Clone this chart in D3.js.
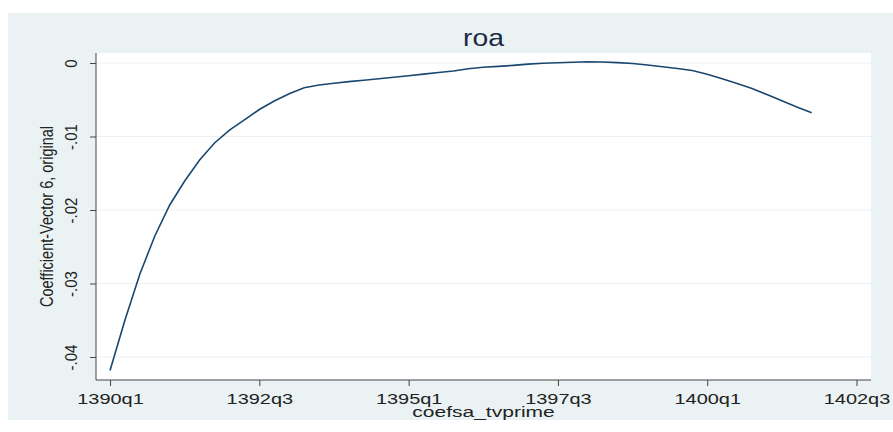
<!DOCTYPE html>
<html><head><meta charset="utf-8">
<script src="https://cdn.jsdelivr.net/npm/d3@7"></script>
<style>html,body{margin:0;padding:0;background:#fff;} svg{display:block;}</style>
</head><body><svg id="c" width="893" height="432"></svg>
<script>
const periods = ["1390q1","1390q2","1390q3","1390q4","1391q1","1391q2","1391q3","1391q4",
  "1392q1","1392q2","1392q3","1392q4","1393q1","1393q2","1393q3","1393q4",
  "1394q1","1394q2","1394q3","1394q4","1395q1","1395q2","1395q3","1395q4",
  "1396q1","1396q2","1396q3","1396q4","1397q1","1397q2","1397q3","1397q4",
  "1398q1","1398q2","1398q3","1398q4","1399q1","1399q2","1399q3","1399q4",
  "1400q1","1400q2","1400q3","1400q4","1401q1","1401q2","1401q3","1401q4"];
const values = [-0.04184,-0.03497,-0.02871,-0.02354,-0.01932,-0.01605,-0.01320,-0.01088,
  -0.00912,-0.00773,-0.00633,-0.00517,-0.00418,-0.00337,-0.00299,-0.00275,
  -0.00254,-0.00235,-0.00215,-0.00195,-0.00173,-0.00151,-0.00129,-0.00109,
  -0.00079,-0.00058,-0.00046,-0.00033,-0.00016,-0.00004,0.00003,0.00010,
  0.00016,0.00014,0.00005,-0.00007,-0.00027,-0.00052,-0.00075,-0.00102,
  -0.00152,-0.00214,-0.00279,-0.00348,-0.00429,-0.00514,-0.00599,-0.00676];
const xTickLabels = ["1390q1","1392q3","1395q1","1397q3","1400q1","1402q3"];
const yTicks = [0,-0.01,-0.02,-0.03,-0.04];
const yTickLabels = ["0","-.01","-.02","-.03","-.04"];
const titleText = "roa";
const xTitleText = "coefsa_tvprime";
const yTitleText = "Coefficient-Vector 6, original";

function qIndex(s){ return (+s.slice(0,4)-1390)*4 + (+s.slice(5)-1); }

const svg = d3.select("#c");
const L=96, R=871, T=53, B=380;
const FONT = "'Liberation Sans', Arial, sans-serif";

// outer background
svg.append("rect").attr("x",8).attr("y",13).attr("width",885).attr("height",407).attr("fill","#eaf2f3");
svg.append("rect").attr("x",L).attr("y",T).attr("width",R-L).attr("height",B-T).attr("fill","#fff");

const x = d3.scaleLinear().domain([-0.94, 50.97]).range([L,R]);
const y = d3.scaleLinear().domain([-0.04313, 0.00136]).range([B,T]);

// gridlines
svg.append("g").selectAll("line").data(yTicks).join("line")
  .attr("x1",L).attr("x2",R).attr("y1",d=>y(d)).attr("y2",d=>y(d))
  .attr("stroke","#eaf2f3").attr("stroke-width",1.2);

// line
const pts = periods.map((p,i)=>({q:qIndex(p), v:values[i]}));
svg.append("path").datum(pts)
  .attr("d", d3.line().x(d=>x(d.q)).y(d=>y(d.v)))
  .attr("fill","none").attr("stroke","#1a476f").attr("stroke-width",1.6);

// y axis
const ya = svg.append("g").attr("transform",`translate(${L},0)`)
  .call(d3.axisLeft(y).tickValues(yTicks).tickSize(6).tickSizeOuter(0).tickFormat((d,i)=>yTickLabels[i]));
ya.select(".domain").attr("stroke","#444").attr("d",`M0,${T}V${B}`);
ya.selectAll(".tick line").attr("stroke","#444");
ya.selectAll(".tick text").attr("x",0).attr("dy",0)
  .attr("text-anchor","middle")
  .attr("transform","translate(-19,0) scale(1.1,1) rotate(-90)")
  .style("font-family",FONT).style("font-size","15px").attr("fill","#222");

// x axis
const xa = svg.append("g").attr("transform",`translate(0,${B})`)
  .call(d3.axisBottom(x).tickValues(xTickLabels.map(qIndex)).tickSize(6).tickSizeOuter(0).tickFormat((d,i)=>xTickLabels[i]));
xa.select(".domain").attr("stroke","#444").attr("d",`M${L},0H${R}`);
xa.selectAll(".tick line").attr("stroke","#444");
xa.selectAll(".tick text").attr("y",0).attr("dy",0)
  .attr("transform","translate(0,24) scale(1.33,1)")
  .style("font-family",FONT).style("font-size","15px").attr("fill","#222");

// titles
svg.append("text").text(titleText)
  .attr("transform",`translate(${(L+R)/2},45.5) scale(1.18,1)`)
  .attr("text-anchor","middle").style("font-family",FONT).style("font-size","24px").attr("fill","#1c2a44");
svg.append("text").text(xTitleText)
  .attr("transform",`translate(${(L+R)/2},417) scale(1.45,1)`)
  .attr("text-anchor","middle").style("font-family",FONT).style("font-size","14.5px").attr("fill","#222");
svg.append("text").text(yTitleText)
  .attr("transform",`translate(53,${(T+B)/2}) scale(1.25,1) rotate(-90)`)
  .attr("text-anchor","middle").style("font-family",FONT).style("font-size","14.5px").attr("fill","#222");
</script></body></html>
